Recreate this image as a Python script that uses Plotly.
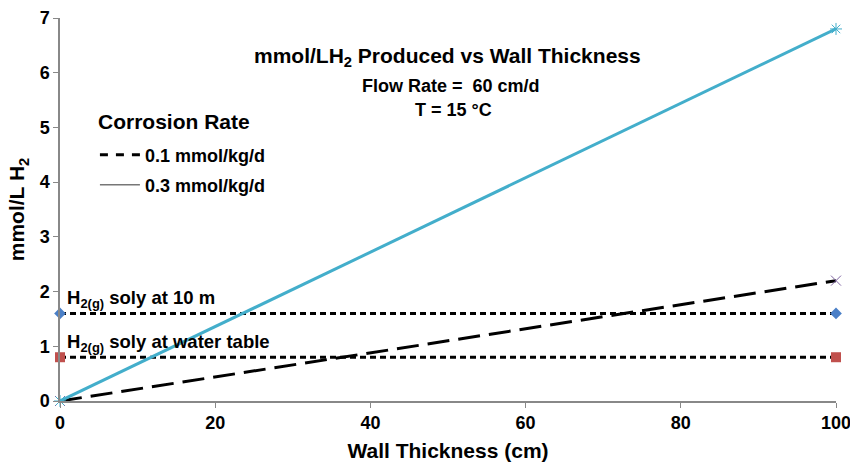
import plotly.graph_objects as go

thickness = [0, 100]
h2_03 = [0, 6.8]
h2_01 = [0, 2.2]
soly_10m = [1.6, 1.6]
soly_wt = [0.8, 0.8]

FONT = "Liberation Sans"

fig = go.Figure()
fig.add_trace(go.Scatter(x=thickness, y=soly_10m, mode="lines+markers",
                         line=dict(color="black", width=3, dash="6px,4px"),
                         marker=dict(symbol="diamond", size=9, color="#4a7fc7"),
                         showlegend=False))
fig.add_trace(go.Scatter(x=thickness, y=soly_wt, mode="lines+markers",
                         line=dict(color="black", width=3, dash="6px,4px"),
                         marker=dict(symbol="square", size=10, color="#c0504d"),
                         showlegend=False))
fig.add_trace(go.Scatter(x=thickness, y=h2_01, mode="lines+markers",
                         line=dict(color="black", width=3, dash="22px,9px"),
                         marker=dict(symbol="x-thin", size=10, color="#8064a2", line=dict(width=1, color="#8064a2")),
                         showlegend=False))
fig.add_trace(go.Scatter(x=thickness, y=h2_03, mode="lines+markers",
                         line=dict(color="#43aecb", width=3),
                         marker=dict(symbol="asterisk-open", size=10, color="#43aecb", line=dict(width=1, color="#43aecb")),
                         showlegend=False))
# legend entries
fig.add_trace(go.Scatter(x=[None], y=[None], mode="lines", name="<b>0.1 mmol/kg/d</b>", legend="legend",
                         line=dict(color="black", width=3, dash="8px,8px")))
fig.add_trace(go.Scatter(x=[None], y=[None], mode="lines", name="<b>0.3 mmol/kg/d</b>", legend="legend2",
                         line=dict(color="#777777", width=1.5)))

annots = [
    dict(text="<b>mmol/LH<sub>2</sub> Produced vs Wall Thickness</b>", x=447, y=57, size=21, anchor="center"),
    dict(text="<b>Flow Rate =  60 cm/d</b>", x=451, y=86, size=18, anchor="center"),
    dict(text="<b>T = 15 °C</b>", x=453, y=110, size=18, anchor="center"),
    dict(text="<b>Corrosion Rate</b>", x=96, y=121, size=21, anchor="left"),
]
for a in annots:
    fig.add_annotation(text=a["text"], x=(a["x"] - 60) / 776, y=(401 - a["y"]) / 383,
                       xref="paper", yref="paper", showarrow=False,
                       xanchor=a["anchor"], yanchor="middle",
                       font=dict(family=FONT, size=a["size"], color="black"))
fig.add_annotation(text="<b>H<sub>2(g)</sub> soly at 10 m</b>", x=0.7, y=1.6, xanchor="left", yanchor="bottom",
                   showarrow=False, font=dict(family=FONT, size=18.5, color="black"), yshift=0)
fig.add_annotation(text="<b>H<sub>2(g)</sub> soly at water table</b>", x=0.7, y=0.8, xanchor="left", yanchor="bottom",
                   showarrow=False, font=dict(family=FONT, size=18.5, color="black"), yshift=0)

leg_common = dict(xanchor="left", yanchor="middle", font=dict(size=18, family=FONT),
                  bgcolor="rgba(0,0,0,0)", itemwidth=40)
fig.update_layout(
    width=850, height=462,
    margin=dict(l=60, r=14, t=18, b=61),
    paper_bgcolor="white", plot_bgcolor="white",
    font=dict(family=FONT, color="black"),
    showlegend=True,
    legend=dict(x=0.045, y=(401 - 155) / 383, **leg_common),
    legend2=dict(x=0.045, y=(401 - 185) / 383, **leg_common),
    xaxis=dict(range=[0, 100], dtick=20, showgrid=False, zeroline=False, automargin=False,
               showline=True, linecolor="#888888", linewidth=1.5,
               ticks="outside", ticklen=5, tickcolor="#888888", ticklabeloverflow="allow",
               tickfont=dict(size=18, family=FONT), tickprefix="<b>", ticksuffix="</b>",
               title=dict(text="<b>Wall Thickness (cm)</b>", font=dict(size=21, family=FONT), standoff=12)),
    yaxis=dict(range=[0, 7], dtick=1, showgrid=False, zeroline=False, automargin=False,
               showline=True, linecolor="#888888", linewidth=1.5,
               ticks="outside", ticklen=5, tickcolor="#888888", ticklabeloverflow="allow",
               tickfont=dict(size=18, family=FONT), tickprefix="<b>", ticksuffix="</b>",
               title=dict(text="<b>mmol/L H<sub>2</sub></b>", font=dict(size=21, family=FONT), standoff=9)),
)
fig.update_traces(cliponaxis=False)
fig.write_html("out.html", config={"displayModeBar": False},
               post_script="document.body.style.margin='0px';document.body.style.overflow='hidden';")
